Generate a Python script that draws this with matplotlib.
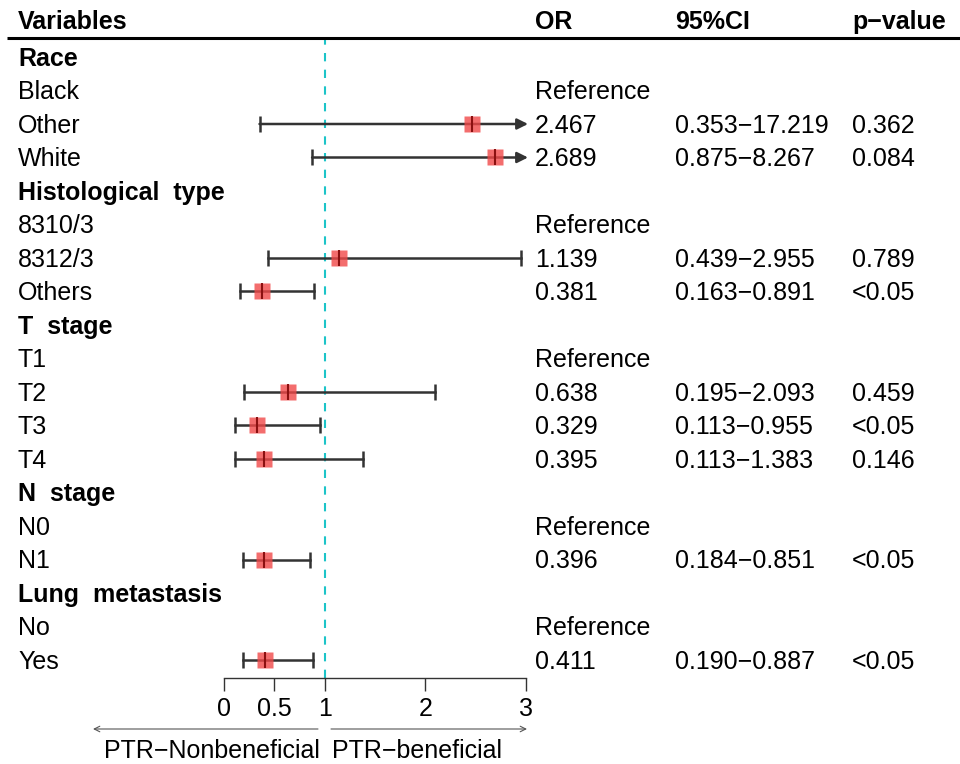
import numpy as np
import matplotlib.pyplot as plt
import matplotlib.transforms as mtrans

plt.rcParams['font.family'] = ['Liberation Sans', 'DejaVu Sans']

# ---- datos ----
variables = ['Race', 'Black', 'Other', 'White',
             'Histological  type', '8310/3', '8312/3', 'Others',
             'T  stage', 'T1', 'T2', 'T3', 'T4',
             'N  stage', 'N0', 'N1',
             'Lung  metastasis', 'No', 'Yes']
es_grupo = [1, 0, 0, 0, 1, 0, 0, 0, 1, 0, 0, 0, 0, 1, 0, 0, 1, 0, 0]
or_val = [None, None, 2.467, 2.689, None, None, 1.139, 0.381,
          None, None, 0.638, 0.329, 0.395, None, None, 0.396, None, None, 0.411]
ci_low = [None, None, 0.353, 0.875, None, None, 0.439, 0.163,
          None, None, 0.195, 0.113, 0.113, None, None, 0.184, None, None, 0.190]
ci_up = [None, None, 17.219, 8.267, None, None, 2.955, 0.891,
         None, None, 2.093, 0.955, 1.383, None, None, 0.851, None, None, 0.887]
or_txt = ['', 'Reference', '2.467', '2.689', '', 'Reference', '1.139', '0.381',
          '', 'Reference', '0.638', '0.329', '0.395', '', 'Reference', '0.396',
          '', 'Reference', '0.411']
ci_txt = ['', '', '0.353\u221217.219', '0.875\u22128.267', '', '', '0.439\u22122.955',
          '0.163\u22120.891', '', '', '0.195\u22122.093', '0.113\u22120.955',
          '0.113\u22121.383', '', '', '0.184\u22120.851', '', '', '0.190\u22120.887']
p_txt = ['', '', '0.362', '0.084', '', '', '0.789', '<0.05', '', '', '0.459',
         '<0.05', '0.146', '', '', '<0.05', '', '', '<0.05']
xticks = [0, 0.5, 1, 2, 3]

W, H = 960, 764
fig = plt.figure(figsize=(9.6, 7.64), dpi=100)
# eje del grafico: x 224..526 px, y 40..678 px
ax = fig.add_axes([224 / W, 1 - 678 / H, (526 - 224) / W, (678 - 40) / H])
y0, dy = 57, 33.5
ax.set_xlim(0, 3)
ax.set_ylim((678 - y0) / dy, (40 - y0) / dy)
ax.patch.set_alpha(0)
for s in ['top', 'right', 'left']:
    ax.spines[s].set_visible(False)
ax.spines['bottom'].set_color('#333333')
ax.spines['bottom'].set_linewidth(1.0)
ax.set_yticks([])
ax.set_xticks(xticks)
ax.set_xticklabels(['0', '0.5', '1', '2', '3'])
ax.tick_params(axis='x', length=9, width=1.0, color='#333333', labelsize=18, pad=5)

ax.axvline(1, color='#1cc4c8', ls=(0, (4, 4)), lw=1.5, zorder=1)

fs = 18
tr = mtrans.blended_transform_factory(fig.transFigure, ax.transData)
fx = lambda px: px / W
off = 0.05  # pequeño desplazamiento del texto hacia abajo

# encabezado
hy = (20 - y0) / dy
for lab, px in [('Variables', 18), ('OR', 535), ('95%CI', 675), ('p\u2212value', 852)]:
    ax.text(fx(px), hy + off, lab, transform=tr, fontsize=fs, fontweight='bold', va='center')
ax.plot([fx(7), fx(960)], [(38.5 - y0) / dy] * 2, transform=tr, color='black', lw=2.2,
        clip_on=False, solid_capstyle='butt')

for i, v in enumerate(variables):
    ax.text(fx(18), i + off, v, transform=tr, fontsize=fs, va='center',
            fontweight='bold' if es_grupo[i] else 'normal')
    ax.text(fx(535), i + off, or_txt[i], transform=tr, fontsize=fs, va='center')
    ax.text(fx(675), i + off, ci_txt[i], transform=tr, fontsize=fs, va='center')
    ax.text(fx(852), i + off, p_txt[i], transform=tr, fontsize=fs, va='center')
    if or_val[i] is None:
        continue
    lo, up = ci_low[i], ci_up[i]
    if up > 3:
        ax.annotate('', xy=(3.02, i), xytext=(lo, i), annotation_clip=False,
                    arrowprops=dict(arrowstyle='-|>', color='#333333', lw=1.8,
                                    mutation_scale=16, shrinkA=0, shrinkB=0))
        ax.plot([lo], [i], marker='|', ms=11, mew=1.8, color='#333333', zorder=3)
    else:
        ax.plot([lo, up], [i, i], color='#333333', lw=1.8, zorder=2)
        ax.plot([lo, up], [i, i], ls='none', marker='|', ms=11, mew=1.8, color='#333333', zorder=3)
    ax.plot([or_val[i]], [i], marker='s', ms=11.5, color='#f04848', alpha=0.8, mec='none', zorder=4)
    ax.plot([or_val[i]], [i], marker='|', ms=11, mew=1.5, color='#8b1010', zorder=5)

# flechas inferiores
ya = (729 - y0) / dy
yl = (749 - y0) / dy
ax.annotate('', xy=((93 - 224) / 100.67, ya), xytext=((318 - 224) / 100.67, ya),
            xycoords='data', arrowprops=dict(arrowstyle='->', color='#555555', lw=0.8,
                                             shrinkA=0, shrinkB=0), annotation_clip=False)
ax.annotate('', xy=((527 - 224) / 100.67, ya), xytext=((331 - 224) / 100.67, ya),
            xycoords='data', arrowprops=dict(arrowstyle='->', color='#555555', lw=0.8,
                                             shrinkA=0, shrinkB=0), annotation_clip=False)
ax.text(fx(320), yl + off, 'PTR\u2212Nonbeneficial', transform=tr, fontsize=fs, ha='right', va='center')
ax.text(fx(332), yl + off, 'PTR\u2212beneficial', transform=tr, fontsize=fs, ha='left', va='center')

fig.savefig('out.png', dpi=100)
